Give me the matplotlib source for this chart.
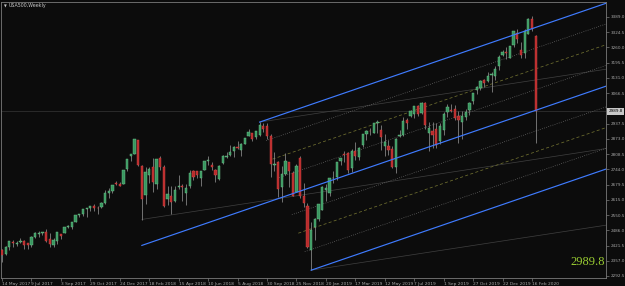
import matplotlib
matplotlib.use("Agg")
import matplotlib.pyplot as plt
import matplotlib.transforms as mtransforms
import numpy as np
import pandas as pd

# weekly bars, first bar = week starting Sun 14 May 2017
start_date = "2017-05-14"

opens = [2403, 2387, 2415, 2437, 2429, 2437, 2440, 2431, 2424, 2459, 2472, 2475, 2477, 2450, 2425, 2441,
         2469, 2474, 2502, 2500, 2521, 2551, 2553, 2578, 2582, 2588, 2580, 2583, 2603, 2645, 2653, 2685,
         2684, 2684, 2745, 2799, 2810, 2867, 2758, 2636, 2722, 2753, 2681, 2790, 2752, 2619, 2633, 2611,
         2670, 2675, 2643, 2675, 2738, 2735, 2709, 2742, 2780, 2763, 2742, 2705, 2769, 2797, 2804, 2821,
         2840, 2827, 2853, 2884, 2897, 2880, 2891, 2926, 2927, 2886, 2764, 2773, 2670, 2726, 2773, 2730,
         2650, 2790, 2630, 2590, 2401, 2498, 2535, 2571, 2657, 2644, 2706, 2712, 2780, 2805, 2814, 2748,
         2823, 2797, 2848, 2892, 2908, 2898, 2941, 2909, 2841, 2841, 2832, 2752, 2886, 2889, 2951, 2971,
         2980, 3014, 2982, 3024, 2898, 2908, 2913, 2866, 2910, 2988, 2997, 2999, 2968, 2944, 2965, 2996,
         3033, 3078, 3089, 3123, 3117, 3144, 3141, 3183, 3226, 3240, 3217, 3271, 3322, 3248, 3236, 3318,
         3380, 3310]
highs = [2406, 2419, 2441, 2446, 2441, 2453, 2443, 2434, 2463, 2479, 2484, 2480, 2491, 2475, 2454, 2477,
         2471, 2500, 2508, 2520, 2552, 2557, 2575, 2582, 2588, 2598, 2590, 2605, 2657, 2665, 2679, 2695,
         2692, 2743, 2787, 2810, 2873, 2870, 2763, 2754, 2754, 2790, 2787, 2802, 2762, 2675, 2673, 2675,
         2718, 2683, 2682, 2742, 2742, 2739, 2737, 2779, 2801, 2774, 2746, 2763, 2804, 2816, 2848, 2842,
         2863, 2855, 2877, 2916, 2898, 2908, 2944, 2940, 2940, 2894, 2817, 2779, 2760, 2815, 2775, 2735,
         2765, 2800, 2686, 2601, 2520, 2539, 2598, 2675, 2681, 2708, 2738, 2776, 2793, 2820, 2817, 2830,
         2860, 2838, 2893, 2910, 2917, 2940, 2954, 2932, 2892, 2868, 2841, 2876, 2911, 2964, 2960, 2996,
         3014, 3018, 3028, 3028, 2944, 2943, 2940, 2940, 2985, 3021, 3022, 3016, 2993, 2993, 3000, 3028,
         3067, 3098, 3121, 3128, 3155, 3155, 3183, 3226, 3248, 3260, 3268, 3330, 3338, 3285, 3338, 3385,
         3393, 3312]
lows = [2353, 2380, 2404, 2415, 2419, 2431, 2405, 2407, 2415, 2455, 2459, 2466, 2437, 2417, 2416, 2429,
        2447, 2474, 2496, 2491, 2521, 2544, 2547, 2544, 2566, 2566, 2557, 2581, 2598, 2624, 2645, 2676,
        2673, 2682, 2738, 2779, 2808, 2759, 2529, 2596, 2687, 2647, 2659, 2742, 2585, 2594, 2553, 2605,
        2659, 2612, 2594, 2664, 2701, 2707, 2675, 2742, 2764, 2743, 2691, 2699, 2766, 2790, 2800, 2795,
        2830, 2802, 2852, 2884, 2864, 2874, 2886, 2903, 2874, 2710, 2737, 2628, 2604, 2718, 2671, 2631,
        2647, 2621, 2583, 2409, 2317, 2444, 2524, 2570, 2612, 2631, 2688, 2697, 2762, 2775, 2728, 2734,
        2785, 2785, 2839, 2869, 2890, 2898, 2900, 2826, 2801, 2805, 2750, 2729, 2880, 2887, 2914, 2964,
        2963, 2970, 2977, 2915, 2822, 2834, 2834, 2853, 2891, 2964, 2985, 2954, 2856, 2874, 2952, 2975,
        3020, 3065, 3081, 3092, 3113, 3070, 3124, 3166, 3222, 3212, 3214, 3264, 3280, 3214, 3215, 3315,
        3328, 2855]
closes = [2382, 2416, 2439, 2432, 2433, 2438, 2423, 2425, 2459, 2473, 2472, 2477, 2441, 2426, 2443, 2477,
          2461, 2500, 2502, 2519, 2549, 2553, 2575, 2581, 2588, 2582, 2579, 2602, 2642, 2652, 2676, 2683,
          2674, 2743, 2786, 2810, 2873, 2762, 2620, 2732, 2747, 2691, 2787, 2752, 2588, 2641, 2605, 2656,
          2670, 2670, 2663, 2728, 2713, 2721, 2735, 2779, 2780, 2755, 2718, 2760, 2801, 2802, 2819, 2840,
          2833, 2850, 2875, 2902, 2872, 2905, 2930, 2914, 2886, 2767, 2768, 2659, 2723, 2781, 2736, 2633,
          2760, 2633, 2600, 2417, 2486, 2532, 2596, 2671, 2665, 2707, 2708, 2776, 2793, 2804, 2743, 2822,
          2801, 2834, 2893, 2907, 2905, 2940, 2946, 2881, 2860, 2826, 2752, 2873, 2887, 2950, 2942, 2990,
          3014, 2977, 3026, 2932, 2919, 2889, 2847, 2927, 2979, 3007, 2992, 2962, 2952, 2970, 2986, 3023,
          3067, 3093, 3120, 3110, 3141, 3146, 3169, 3221, 3240, 3235, 3265, 3330, 3295, 3226, 3328, 3380,
          3338, 2989.8]

last_price = 2989.8
price_ticks = [3389.0 - 64.5 * k for k in range(18)]

# Andrews pitchfork anchors (bar index, price)
fork_idx = [38, 70, 84]
fork_price = [2422, 2944, 2317]
fork_levels = [0.125, 0.25, 0.375, 0.625, 0.75, 0.875]

# thin parallel trend lines (start bar, start price), slope in points per bar
trend_idx = [38, 70, 84]
trend_price = [2532, 2944, 2317]
trend_slope = 2.38

bg = "#0c0c0c"
n = len(closes)
x = np.arange(n)
o = np.array(opens, float)
c = np.array(closes, float)
h = np.array(highs, float)
l = np.array(lows, float)

fig = plt.figure(figsize=(6.25, 2.86), dpi=100, facecolor=bg)
ax = fig.add_axes([1 / 625, 8 / 286, 605 / 625, 276 / 286], facecolor=bg)
x_left, x_right = -0.27, 164.1
ax.set_xlim(x_left, x_right)
ax.set_ylim(2284, 3452.5)

# bid line
ax.axhline(last_price, color="#363636", lw=0.5, zorder=1)

# thin trend lines
for i0, p0 in zip(trend_idx, trend_price):
    ax.plot([i0, x_right], [p0, p0 + trend_slope * (x_right - i0)], color="#404040", lw=0.5, zorder=1)

# pitchfork
(i1, i2, i3), (p1, p2, p3) = fork_idx, fork_price
mid_i, mid_p = (i2 + i3) / 2, (p2 + p3) / 2
slope = (mid_p - p1) / (mid_i - i1)
blue = "#3f7bff"
for i0, p0 in [(i1, p1), (i2, p2), (i3, p3)]:
    ax.plot([i0, x_right], [p0, p0 + slope * (x_right - i0)], color=blue, lw=0.85, zorder=4)
for t in fork_levels:
    i0 = i2 + (i3 - i2) * t
    p0 = p2 + (p3 - p2) * t
    if t in (0.25, 0.75):
        sty = dict(color="#6f6f30", lw=0.55, ls=(0, (4, 3)))
    else:
        sty = dict(color="#707070", lw=0.5, ls=(0, (1.2, 2)))
    ax.plot([i0, x_right], [p0, p0 + slope * (x_right - i0)], zorder=1, **sty)

# candles
up = c >= o
ax.vlines(x, l, h, color="#8e8e8e", lw=0.55, zorder=2)
body_lo = np.minimum(o, c)
body_h = np.maximum(np.abs(c - o), 3)
ax.bar(x[up], body_h[up], bottom=body_lo[up], width=0.62, color="#389660",
       edgecolor="#74c890", lw=0.3, zorder=3)
ax.bar(x[~up], body_h[~up], bottom=body_lo[~up], width=0.62, color="#b82b2b",
       edgecolor="#d84a4a", lw=0.3, zorder=3)

# axes styling
for sp in ax.spines.values():
    sp.set_color("#7a7a7a")
    sp.set_linewidth(0.6)
ax.yaxis.tick_right()
ax.set_yticks(price_ticks)
# the 3002.0 label sits under the current-price box
ax.set_yticklabels(["" if abs(p - last_price) < 20 else f"{p:.1f}" for p in price_ticks])
ax.tick_params(axis="y", length=2, width=0.5, color="#7a7a7a", labelcolor="#a8a8a8",
               labelsize=3.0, pad=1.2)

dates = pd.date_range(start_date, periods=n, freq="7D")
xt = list(range(0, n, 8))
ax.set_xticks(xt)
ax.set_xticklabels([f"{dates[i].day} {dates[i].strftime('%b %Y')}" for i in xt])
ax.tick_params(axis="x", length=2, width=0.5, color="#7a7a7a", labelcolor="#a8a8a8",
               labelsize=3.2, pad=0.8)
for lab in ax.get_xticklabels():
    lab.set_ha("left")

# current price box on the price scale
tr = mtransforms.blended_transform_factory(ax.transAxes, ax.transData)
ax.text(1.004, last_price, f"{last_price:.1f}", transform=tr, fontsize=3.0, color="#000000",
        va="center", ha="left", clip_on=False, zorder=5,
        bbox=dict(boxstyle="square,pad=0.35", fc="#c8c8c8", ec="none"))

# big price label
ax.text(0.998, 0.047, f"{last_price:.1f}", transform=ax.transAxes, ha="right", va="baseline",
        fontsize=9, color="#9acd32", family="Liberation Serif", zorder=6)

# title
fig.text(4 / 625, 1 - 6 / 286, "\u25bc", fontsize=2.6, color="#c8c8c8", va="center", ha="left")
fig.text(9 / 625, 1 - 6 / 286, "USA500,Weekly", fontsize=3.4, color="#c8c8c8", va="center", ha="left")

fig.savefig("out.png", dpi=100, facecolor=bg)
